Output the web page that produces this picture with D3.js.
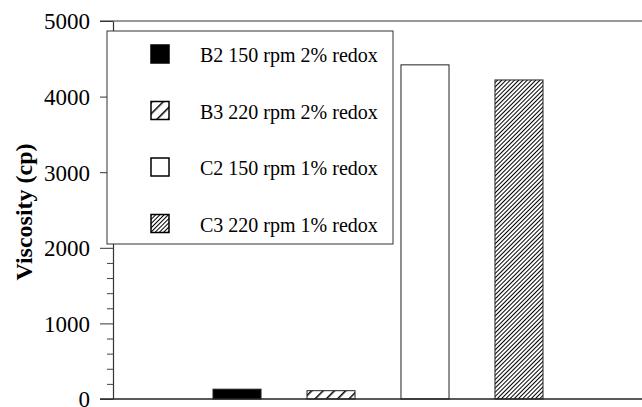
<!DOCTYPE html>
<html>
<head>
<meta charset="utf-8">
<script src="https://cdn.jsdelivr.net/npm/d3@7"></script>
<style>
  html, body { margin: 0; padding: 0; background: #fff; }
  svg { display: block; }
  text { font-family: "Liberation Serif", "Times New Roman", serif; fill: #000; }
</style>
</head>
<body>
<svg id="chart" width="642" height="407"></svg>
<script>
// Viscosity of each run
const categories = ["B2 150 rpm 2% redox", "B3 220 rpm 2% redox", "C2 150 rpm 1% redox", "C3 220 rpm 1% redox"];
const viscosity = [130, 110, 4420, 4220];
const yTicks = [0, 1000, 2000, 3000, 4000, 5000];
const yMinorTicks = d3.range(0, 5001, 200).filter(v => v % 1000 !== 0);
const fills = ["solid", "wide", "open", "dense"];

const W = 642, H = 407;
const axisX = 113;
const svg = d3.select("#chart");

const y = d3.scaleLinear().domain([0, 5000]).range([399, 21]);
const x = d3.scaleBand().domain(categories).range([166, 590]).paddingInner(0.489).paddingOuter(0.5);

// hatch patterns
const defs = svg.append("defs");
const wide = defs.append("pattern")
  .attr("id", "hatchWide").attr("patternUnits", "userSpaceOnUse")
  .attr("width", 8).attr("height", 8)
  .attr("patternTransform", "rotate(45)");
wide.append("rect").attr("width", 8).attr("height", 8).attr("fill", "#fff");
wide.append("line").attr("x1", 0).attr("y1", 0).attr("x2", 0).attr("y2", 8)
  .attr("stroke", "#000").attr("stroke-width", 3);

const dense = defs.append("pattern")
  .attr("id", "hatchDense").attr("patternUnits", "userSpaceOnUse")
  .attr("width", 3).attr("height", 3)
  .attr("patternTransform", "rotate(45)");
dense.append("rect").attr("width", 3).attr("height", 3).attr("fill", "#fff");
dense.append("line").attr("x1", 0).attr("y1", 0).attr("x2", 0).attr("y2", 3)
  .attr("stroke", "#000").attr("stroke-width", 2);

function fillFor(kind) {
  if (kind === "solid") return "#000";
  if (kind === "wide") return "url(#hatchWide)";
  if (kind === "dense") return "url(#hatchDense)";
  return "#fff";
}

// bars
svg.append("g").selectAll("rect")
  .data(categories.map((c, i) => ({ c, v: viscosity[i], f: fills[i] })))
  .join("rect")
  .attr("x", d => x(d.c))
  .attr("width", x.bandwidth())
  .attr("y", d => y(d.v))
  .attr("height", d => y(0) - y(d.v))
  .attr("fill", d => fillFor(d.f))
  .attr("stroke", "#222")
  .attr("stroke-width", 1);

// frame lines at top and bottom
svg.append("line").attr("x1", 100).attr("x2", W).attr("y1", y(5000)).attr("y2", y(5000))
  .attr("stroke", "#333").attr("stroke-width", 1.2);
svg.append("line").attr("x1", 100).attr("x2", W).attr("y1", y(0)).attr("y2", y(0))
  .attr("stroke", "#222").attr("stroke-width", 1.5);

// y axis, major and minor ticks
const yAxis = svg.append("g").attr("transform", `translate(${axisX},0)`)
  .call(d3.axisLeft(y).tickValues(yTicks).tickSize(13).tickSizeOuter(0).tickPadding(10).tickFormat(d3.format("d")))
  .attr("font-family", "Liberation Serif")
  .attr("font-size", 23);
yAxis.select(".domain").attr("stroke", "#333").attr("stroke-width", 1.2);
yAxis.selectAll(".tick line").attr("stroke", "#333");
yAxis.selectAll(".tick text").attr("dy", "0.34em");

const yMinor = svg.append("g").attr("transform", `translate(${axisX},0)`)
  .call(d3.axisLeft(y).tickValues(yMinorTicks).tickSize(6).tickFormat(""));
yMinor.select(".domain").remove();
yMinor.selectAll(".tick line").attr("stroke", "#444");

// y label
svg.append("text")
  .attr("transform", "translate(32,212) rotate(-90)")
  .attr("text-anchor", "middle")
  .style("font-size", "24px").style("font-weight", "bold")
  .text("Viscosity (cp)");

// legend
const legend = svg.append("g");
legend.append("rect").attr("x", 107).attr("y", 31).attr("width", 286).attr("height", 213)
  .attr("fill", "#fff").attr("stroke", "#333").attr("stroke-width", 1);
const rows = legend.selectAll("g.row")
  .data(categories.map((c, i) => ({ c, f: fills[i] })))
  .join("g").attr("class", "row")
  .attr("transform", (d, i) => `translate(151,${45 + i * 56.5})`);
rows.append("rect").attr("width", 18).attr("height", 18)
  .attr("fill", d => fillFor(d.f)).attr("stroke", "#000").attr("stroke-width", 1.5);
rows.append("text").attr("x", 49).attr("y", 17)
  .style("font-size", "20px").text(d => d.c);
</script>
</body>
</html>
